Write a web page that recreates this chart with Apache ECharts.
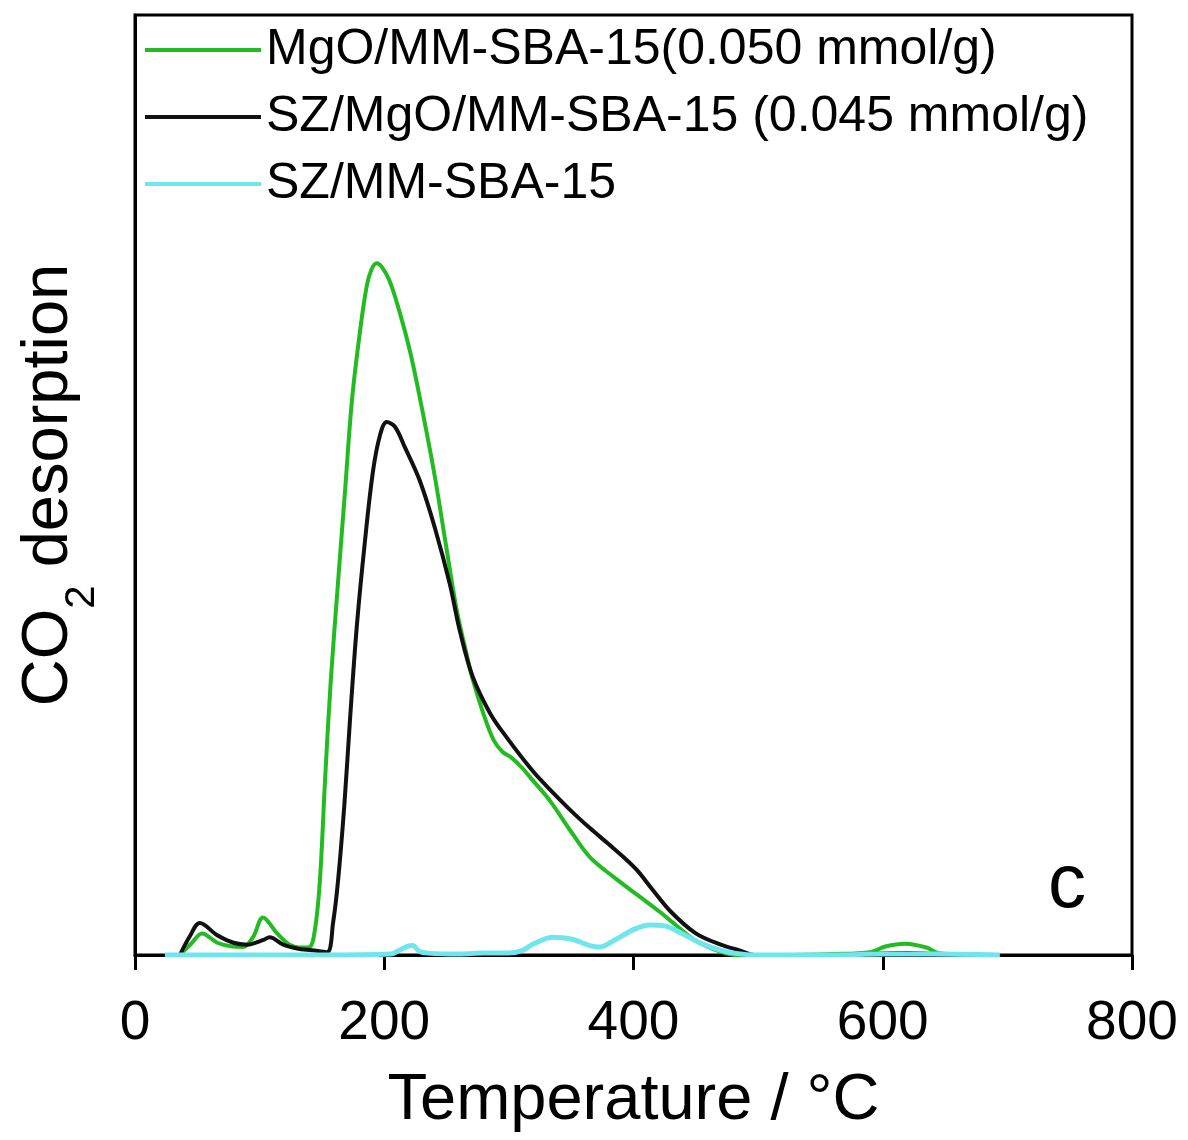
<!DOCTYPE html>
<html>
<head>
<meta charset="utf-8">
<script src="https://cdn.jsdelivr.net/npm/echarts@6/dist/echarts.min.js"></script>
<style>
html,body{margin:0;padding:0;background:#fff;}
#chart{width:1188px;height:1140px;}
</style>
</head>
<body>
<div id="chart"></div>
<script>
// temperature (°C) and signal for each sample
var tMgO = [36, 45, 53.8, 66, 78, 86.7, 94.7, 102.7, 114, 124, 134, 140, 144.4, 148.4, 152.5, 157, 163, 168.5, 174, 180.5, 186, 190, 194, 198, 204, 211, 220.7, 230, 240.7, 250, 258, 265, 271, 280, 288, 295, 302, 310, 319, 333, 349, 365, 385, 405, 421, 432, 449, 469, 485, 520, 560, 590, 602, 618, 635, 645, 690];
var yMgO = [0, 1.2, 2.3, 1.3, 0.9, 0.85, 1.9, 4.0, 2.3, 1.1, 0.8, 0.85, 2.7, 8, 18.6, 29, 39.8, 49.3, 58.9, 66.3, 71.2, 73.0, 73.6, 73.2, 71.8, 69.0, 64.2, 58.3, 50.8, 43.2, 36.8, 32.6, 29.3, 25.5, 22.8, 21.6, 21.0, 20.0, 18.6, 16.4, 13.3, 10.4, 8.2, 6.2, 4.6, 3.4, 1.6, 0.4, 0, 0, 0.1, 0.3, 0.9, 1.2, 0.8, 0.2, 0];

var tSZMgO = [36, 44, 52, 66, 79, 90, 103, 108, 119, 130, 142, 154, 159, 163, 168, 172.5, 178, 184.5, 191, 196.6, 202, 208.6, 216.6, 228.7, 240.7, 252.7, 260.8, 271, 285, 298.5, 319, 333, 351, 365, 380, 393, 403, 415, 430, 450, 470, 485, 497, 560, 620, 650];
var ySZMgO = [0, 2.0, 3.4, 2.1, 1.3, 1.1, 1.6, 1.9, 1.1, 0.7, 0.5, 0.3, 3.5, 8, 16, 25, 35, 44, 51.5, 55.3, 56.7, 56.2, 54, 50.4, 45.4, 39.4, 34.4, 29.6, 25.7, 23.1, 19.6, 17.6, 15.2, 13.5, 11.8, 10.3, 9.0, 7.0, 4.6, 2.3, 1.1, 0.5, 0, 0, 0.2, 0];

var tSZ = [24, 150, 205, 212, 218, 223, 228, 235, 260, 280, 300, 311, 320, 335, 350, 365, 373, 385, 400, 413, 425, 440, 455, 470, 480, 500, 560, 600, 640, 694];
var ySZ = [0, 0, 0.1, 0.5, 0.9, 1.0, 0.4, 0.2, 0.1, 0.2, 0.2, 0.5, 1.2, 1.9, 1.7, 1.0, 0.85, 1.6, 2.7, 3.2, 3.1, 2.2, 1.2, 0.5, 0.2, 0, 0, 0.1, 0.1, 0];

var names = ['MgO/MM-SBA-15(0.050 mmol/g)', 'SZ/MgO/MM-SBA-15 (0.045 mmol/g)', 'SZ/MM-SBA-15'];
var colors = ['#22bb22', '#111111', '#6fe6ee'];
var xTicks = [0, 200, 400, 600, 800];

function pairs(t, y){
  var out = [];
  for (var i = 0; i < t.length; i++) out.push([t[i], y[i]]);
  return out;
}

var font = '"Liberation Sans", Arial, sans-serif';

var option = {
  animation: false,
  color: colors,
  textStyle: {fontFamily: font, color: '#000'},
  grid: {
    left: 135, right: 56, top: 15, bottom: 185,
    show: true, borderColor: '#000', borderWidth: 3
  },
  legend: {
    orient: 'vertical',
    left: 140, top: 20,
    itemWidth: 116, itemHeight: 4,
    itemGap: 17,
    icon: 'rect',
    textStyle: {fontSize: 50, fontFamily: font, color: '#000'},
    data: names
  },
  xAxis: {
    type: 'value',
    min: 0, max: 800, interval: 200,
    name: 'Temperature / °C',
    nameLocation: 'middle',
    nameGap: 114,
    nameTextStyle: {fontSize: 65, fontFamily: font, color: '#000'},
    axisLine: {lineStyle: {color: '#000', width: 3}},
    axisTick: {length: 15, lineStyle: {color: '#000', width: 3}},
    axisLabel: {fontSize: 55, margin: 41, color: '#000', fontFamily: font,
      formatter: function(v){ return xTicks.indexOf(v) >= 0 ? String(v) : ''; }},
    splitLine: {show: false}
  },
  yAxis: {
    type: 'value',
    min: 0, max: 100,
    name: '{a|CO}{b|2}{a| desorption}',
    nameLocation: 'middle',
    nameGap: 50,
    nameTextStyle: {
      fontFamily: font, color: '#000',
      rich: {
        a: {fontSize: 65, fontFamily: font, color: '#000', lineHeight: 72},
        b: {fontSize: 42, fontFamily: font, color: '#000', lineHeight: 72, verticalAlign: 'bottom', padding: [0, 0, -18, 0]}
      }
    },
    axisLine: {show: true, lineStyle: {color: '#000', width: 3}},
    axisTick: {show: false},
    axisLabel: {show: false},
    splitLine: {show: false}
  },
  graphic: [{
    type: 'text',
    left: 1048, top: 848,
    style: {text: 'c', fontSize: 76, fontFamily: font, fill: '#000'}
  }],
  series: [
    {name: names[0], type: 'line', data: pairs(tMgO, yMgO), smooth: 0.35, showSymbol: false,
      lineStyle: {width: 4, color: colors[0]}, z: 2},
    {name: names[1], type: 'line', data: pairs(tSZMgO, ySZMgO), smooth: 0.35, showSymbol: false,
      lineStyle: {width: 4, color: colors[1]}, z: 3},
    {name: names[2], type: 'line', data: pairs(tSZ, ySZ), smooth: 0.35, showSymbol: false,
      lineStyle: {width: 5, color: colors[2]}, z: 4}
  ]
};

var chart = echarts.init(document.getElementById('chart'));
chart.setOption(option);
</script>
</body>
</html>
